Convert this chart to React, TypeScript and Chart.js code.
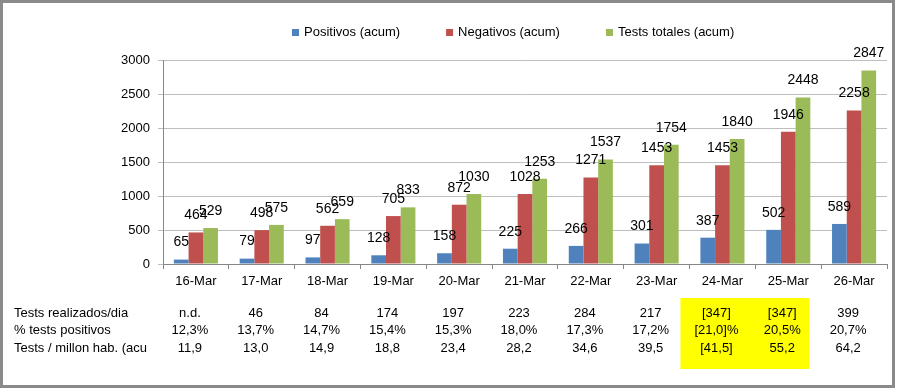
import React, { useEffect, useRef } from "react";
import { Chart, registerables } from "chart.js";

Chart.register(...registerables);

const categories = ["16-Mar", "17-Mar", "18-Mar", "19-Mar", "20-Mar", "21-Mar", "22-Mar", "23-Mar", "24-Mar", "25-Mar", "26-Mar"];
const positivos = [65, 79, 97, 128, 158, 225, 266, 301, 387, 502, 589];
const negativos = [464, 498, 562, 705, 872, 1028, 1271, 1453, 1453, 1946, 2258];
const totales = [529, 575, 659, 833, 1030, 1253, 1537, 1754, 1840, 2448, 2847];

const seriesNames = ["Positivos (acum)", "Negativos (acum)", "Tests totales (acum)"];
const seriesColors = ["#4F81BD", "#C0504D", "#9BBB59"];

const tableLabels = ["Tests realizados/dia", "% tests positivos", "Tests / millon hab. (acu"];
const testsDia = ["n.d.", "46", "84", "174", "197", "223", "284", "217", "[347]", "[347]", "399"];
const pctPositivos = ["12,3%", "13,7%", "14,7%", "15,4%", "15,3%", "18,0%", "17,3%", "17,2%", "[21,0]%", "20,5%", "20,7%"];
const testsMillon = ["11,9", "13,0", "14,9", "18,8", "23,4", "28,2", "34,6", "39,5", "[41,5]", "55,2", "64,2"];
const highlightCols = [8, 9];

const FONT = "'Liberation Sans', Arial, sans-serif";

const customPlugin = {
  id: "custom",
  beforeDatasetsDraw(chart: any) {
    const ctx = chart.ctx;
    const xs = chart.scales.x;
    const left = xs.getPixelForValue(highlightCols[0]) - 42;
    const right = xs.getPixelForValue(highlightCols[1]) + 21;
    ctx.save();
    ctx.fillStyle = "#FFFF00";
    ctx.fillRect(left, 298, right - left, 71);
    ctx.restore();
  },
  afterDraw(chart: any) {
    const ctx = chart.ctx;
    const xs = chart.scales.x;
    ctx.save();
    // data labels
    ctx.font = `14px ${FONT}`;
    ctx.fillStyle = "#000";
    ctx.textAlign = "center";
    ctx.textBaseline = "middle";
    chart.data.datasets.forEach((ds: any, di: number) => {
      const meta = chart.getDatasetMeta(di);
      meta.data.forEach((bar: any, i: number) => {
        ctx.fillText(String(ds.data[i]), bar.x, bar.y - 17);
      });
    });
    // legend
    ctx.font = `13px ${FONT}`;
    ctx.textAlign = "left";
    let lx = 292;
    seriesNames.forEach((name, i) => {
      ctx.fillStyle = seriesColors[i];
      ctx.fillRect(lx, 29, 7, 7);
      ctx.fillStyle = "#000";
      ctx.fillText(name, lx + 12, 32.5);
      lx += 12 + ctx.measureText(name).width + 46;
    });
    // table
    const rows = [testsDia, pctPositivos, testsMillon];
    const rowY = [313, 330.5, 348];
    rows.forEach((row, r) => {
      ctx.textAlign = "left";
      ctx.fillText(tableLabels[r], 14, rowY[r]);
      ctx.textAlign = "center";
      row.forEach((v, i) => {
        ctx.fillText(v, xs.getPixelForValue(i) - 6, rowY[r]);
      });
    });
    ctx.restore();
  },
};

export default function App() {
  const ref = useRef<HTMLCanvasElement | null>(null);
  useEffect(() => {
    if (!ref.current) return;
    const chart = new Chart(ref.current, {
      type: "bar",
      data: {
        labels: categories,
        datasets: [
          { label: seriesNames[0], data: positivos, backgroundColor: seriesColors[0] },
          { label: seriesNames[1], data: negativos, backgroundColor: seriesColors[1] },
          { label: seriesNames[2], data: totales, backgroundColor: seriesColors[2] },
        ],
      },
      options: {
        animation: false,
        responsive: false,
        maintainAspectRatio: false,
        layout: { padding: { left: 0, top: 60, right: 13, bottom: 0 } },
        plugins: { legend: { display: false }, tooltip: { enabled: false } },
        datasets: { bar: { categoryPercentage: 0.67, barPercentage: 1.0 } },
        scales: {
          x: {
            afterFit: (s: any) => { s.height = 124; },
            grid: { drawOnChartArea: false, drawTicks: true, tickLength: 5, color: "#868686", offset: true },
            border: { color: "#868686" },
            ticks: { font: { family: FONT, size: 13 }, color: "#000", padding: 5, maxRotation: 0 },
          },
          y: {
            min: 0,
            max: 3000,
            afterFit: (s: any) => { s.width = 163; },
            grid: { color: "#BEBEBE", tickLength: 5 },
            border: { color: "#868686" },
            ticks: {
              stepSize: 500,
              font: { family: FONT, size: 13 },
              color: "#000",
              padding: 8,
              callback: (v: any) => String(v),
            },
          },
        },
      },
      plugins: [customPlugin],
    });
    return () => chart.destroy();
  }, []);
  return (
    <div style={{ position: "fixed", left: 0, top: 0, width: 900, height: 388, background: "#fff" }}>
      <canvas ref={ref} width={900} height={388} style={{ width: 900, height: 388, display: "block" }} />
      <div
        style={{
          position: "absolute",
          left: 0,
          top: 0,
          width: 895,
          height: 388,
          boxSizing: "border-box",
          border: "3px solid #8A8A8A",
          pointerEvents: "none",
        }}
      />
    </div>
  );
}
